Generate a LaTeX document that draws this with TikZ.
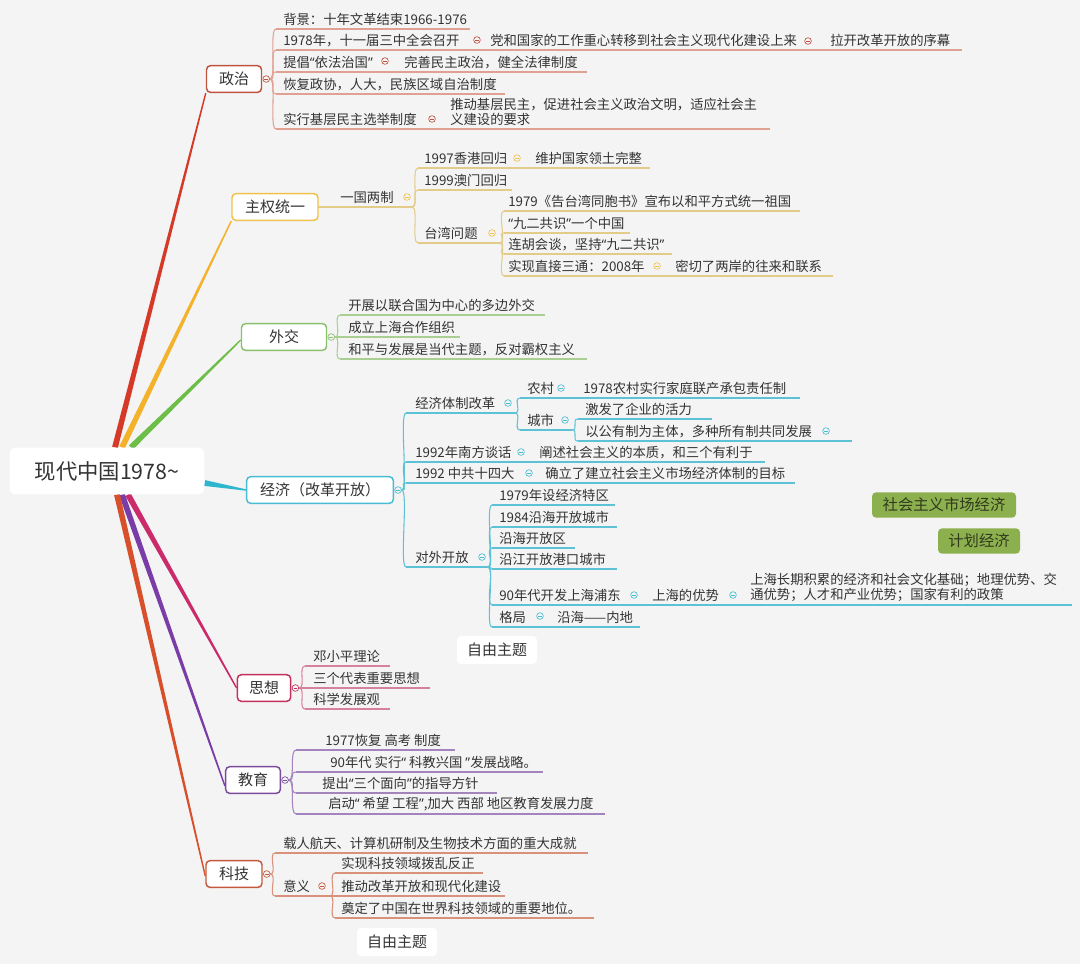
\documentclass[tikz,border=0pt]{standalone}
\usepackage{fontspec}
\newfontfamily\cjk{Noto Sans CJK SC}
\newfontfamily\mmlat{Noto Sans}
\newcommand\mmlq{{\mmlat “}}
\newcommand\mmrq{{\mmlat ”}}
\usetikzlibrary{calc}
\definecolor{bgc}{HTML}{F4F4F4}
\definecolor{txt}{HTML}{333333}
\definecolor{zc}{HTML}{C0533F}\definecolor{zl}{HTML}{E0A193}\definecolor{zr}{HTML}{D43A27}
\definecolor{yc}{HTML}{F0C14B}\definecolor{yl}{HTML}{E3CB8A}\definecolor{yr}{HTML}{F3B229}
\definecolor{gc}{HTML}{8BC06C}\definecolor{gl}{HTML}{A9CF92}\definecolor{gr}{HTML}{6CBE48}
\definecolor{cc}{HTML}{48BCD2}\definecolor{cl}{HTML}{5EC2D6}\definecolor{cr}{HTML}{2FB6CF}
\definecolor{sc}{HTML}{C2305C}\definecolor{sl}{HTML}{D8819C}\definecolor{sr}{HTML}{CB2B6A}
\definecolor{pc}{HTML}{7C4A9C}\definecolor{pl}{HTML}{A384BD}\definecolor{pr}{HTML}{7A3CA6}
\definecolor{kc}{HTML}{C4593D}\definecolor{kl}{HTML}{D99279}\definecolor{kr}{HTML}{D8502B}
\definecolor{gfill}{HTML}{8DB04F}\definecolor{gtxt}{HTML}{2F3A1C}
\pgfdeclarelayer{bg}
\pgfsetlayers{bg,main}
\tikzset{
 itemtext/.style={font=\cjk\fontsize{10}{11.5}\selectfont, text=txt, inner sep=0pt, anchor=south west, align=left},
 ul/.style={draw=#1, line width=0.8pt},
 topic/.style={draw=#1, fill=white, rounded corners=3pt, line width=1.1pt, font=\cjk\fontsize{11.25}{13}\selectfont, text=txt, inner sep=0pt, minimum height=20pt},
 tog/.style={circle, draw=#1, fill=bgc, inner sep=0pt, minimum size=5pt, line width=0.5pt,
   path picture={\draw[#1, line width=0.4pt] ([xshift=-1.4pt]path picture bounding box.center) -- ([xshift=1.4pt]path picture bounding box.center);}},
 freetopic/.style={fill=white, rounded corners=3pt, font=\cjk\fontsize{11.25}{13}\selectfont, text=txt, inner sep=0pt, minimum width=60pt, minimum height=21pt},
 gbox/.style={fill=gfill, rounded corners=3pt, font=\cjk\fontsize{11.5}{13}\selectfont, text=gtxt, inner sep=0pt, minimum height=19pt}
}
\newcommand\mmitem[7]{%
  \coordinate (#1-l) at (#3,#5);
  \coordinate (#1-r) at (#4,#5);
  \node[itemtext] (#1) at (#6,#5-3) {#7};
  \begin{pgfonlayer}{bg}\draw[ul=#2] (#1-l) -- (#1-r);\end{pgfonlayer}}
\newcommand\mmbrk[3]{\begin{pgfonlayer}{bg}\draw[ul=#1] (#2) .. controls +(7,0) and +(-7,0) .. (#3);\end{pgfonlayer}}
\newcommand\mmtaper[3]{\begin{pgfonlayer}{bg}\fill[#1] ($(#2)!2.2pt!90:(#3)$) -- ($(#3)!0.5pt!-90:(#2)$) -- ($(#3)!0.5pt!90:(#2)$) -- ($(#2)!2.2pt!-90:(#3)$) -- cycle;\end{pgfonlayer}}
\begin{document}
\begin{tikzpicture}[x=0.75pt,y=-0.75pt]
\begin{pgfonlayer}{bg}
\fill[bgc] (0,0) rectangle (1080,964);
\end{pgfonlayer}
\useasboundingbox (0,0) rectangle (1080,964);

% root and main topics
\node[fill=white, rounded corners=4pt, minimum width=146pt, minimum height=35pt, inner sep=0pt,
      font=\cjk\fontsize{16}{19}\selectfont, text=txt] (root) at (107,471) {现代中国1978\textasciitilde};
\node[topic=zc, minimum width=41.25pt] (zz) at (234,79) {政治};
\node[topic=yc, minimum width=64.5pt] (zq) at (275,207) {主权统一};
\node[topic=gc, minimum width=63.75pt] (wj) at (284,337) {外交};
\node[topic=cc, minimum width=110pt] (jj) at (320,490) {经济（改革开放）};
\node[topic=sc, minimum width=40pt] (sx) at (264,688) {思想};
\node[topic=pc, minimum width=41pt] (jy) at (253,780) {教育};
\node[topic=kc, minimum width=42pt] (kj) at (234,874) {科技};

% root connectors
\coordinate (r-zz) at ($(root.north)+(8,0)$);
\coordinate (r-zq) at ($(root.north)+(15,0)$);
\coordinate (r-wj) at ($(root.north)+(24,0)$);
\coordinate (r-jj) at ($(root.east)+(0,12)$);
\coordinate (r-sx) at ($(root.south)+(21,0)$);
\coordinate (r-jy) at ($(root.south)+(15,0)$);
\coordinate (r-kj) at ($(root.south)+(10,0)$);
\coordinate (e-wj) at ($(wj.west)+(0,3)$);
\coordinate (e-jy) at ($(jy.west)+(0,6)$);
\coordinate (e-kj) at ($(kj.west)+(0,2)$);
\mmtaper{zr}{r-zz}{zz.south west}
\mmtaper{yr}{r-zq}{zq.south west}
\mmtaper{gr}{r-wj}{e-wj}
\mmtaper{cr}{r-jj}{jj.west}
\mmtaper{sr}{r-sx}{sx.west}
\mmtaper{pr}{r-jy}{e-jy}
\mmtaper{kr}{r-kj}{e-kj}

% toggles on main topics
\node[tog=zc] (t-zz) at ($(zz.east)+(4,0)$) {};
\node[tog=gc] (t-wj) at ($(wj.east)+(4,0)$) {};
\node[tog=cc] (t-jj) at ($(jj.east)+(4,0)$) {};
\node[tog=sc] (t-sx) at ($(sx.east)+(4,0)$) {};
\node[tog=pc] (t-jy) at ($(jy.east)+(4,0)$) {};
\node[tog=kc] (t-kj) at ($(kj.east)+(4,0)$) {};

% ---- 政治
\mmitem{zz1}{zl}{276}{470}{29}{283}{背景：十年文革结束1966-1976}
\mmitem{zz2}{zl}{276}{486}{50}{283}{1978年，十一届三中全会召开}
\mmitem{zz2a}{zl}{486}{815}{50}{490}{党和国家的工作重心转移到社会主义现代化建设上来}
\mmitem{zz2b}{zl}{815}{962}{50}{830}{拉开改革开放的序幕}
\mmitem{zz3}{zl}{276}{393}{72}{283}{提倡\mmlq 依法治国\mmrq}
\mmitem{zz3a}{zl}{393}{587}{72}{404}{完善民主政治，健全法律制度}
\mmitem{zz4}{zl}{276}{505}{94}{283}{恢复政协，人大，民族区域自治制度}
\mmitem{zz5}{zl}{276}{440}{129}{283}{实行基层民主选举制度}
\mmitem{zz5a}{zl}{440}{770}{129}{450}{推动基层民主，促进社会主义政治文明，适应社会主\\义建设的要求}
\foreach \c in {zz1,zz2,zz3,zz4,zz5} {\mmbrk{zl}{t-zz.east}{\c-l}}
\node[tog=zc] (t-zz2) at (477,40) {};
\node[tog=zc] (t-zz2a) at (808,41) {};
\node[tog=zc] (t-zz3) at (385,61) {};
\node[tog=zc] (t-zz5) at (432,119) {};

% ---- 主权统一
\mmitem{y1}{yl}{318}{412}{207}{340}{一国两制}
\mmitem{y1a}{yl}{418}{525}{168}{424}{1997香港回归}
\mmitem{y1a1}{yl}{525}{650}{168}{535}{维护国家领土完整}
\mmitem{y1b}{yl}{418}{512}{190}{424}{1999澳门回归}
\mmitem{y1c}{yl}{418}{500}{243}{424}{台湾问题}
\mmitem{y1c1}{yl}{504}{800}{211}{508}{1979《告台湾同胞书》宣布以和平方式统一祖国}
\mmitem{y1c2}{yl}{504}{630}{233}{508}{\mmlq 九二共识\mmrq 一个中国}
\mmitem{y1c3}{yl}{504}{672}{254}{508}{连胡会谈，坚持\mmlq 九二共识\mmrq}
\mmitem{y1c4}{yl}{504}{665}{276}{508}{实现直接三通：2008年}
\mmitem{y1c4a}{yl}{665}{833}{276}{675}{密切了两岸的往来和联系}
\foreach \c in {y1a,y1b,y1c} {\mmbrk{yl}{y1-r}{\c-l}}
\foreach \c in {y1c1,y1c2,y1c3,y1c4} {\mmbrk{yl}{y1c-r}{\c-l}}
\node[tog=yc] (t-y1) at (407,197) {};
\node[tog=yc] (t-y1a) at (517,158) {};
\node[tog=yc] (t-y1c) at (492,233) {};
\node[tog=yc] (t-y1c4) at (657,266) {};

% ---- 外交
\mmitem{w1}{gl}{340}{545}{315}{348}{开展以联合国为中心的多边外交}
\mmitem{w2}{gl}{340}{460}{337}{348}{成立上海合作组织}
\mmitem{w3}{gl}{340}{587}{359}{348}{和平与发展是当代主题，反对霸权主义}
\foreach \c in {w1,w2,w3} {\mmbrk{gl}{t-wj.east}{\c-l}}

% ---- 经济
\mmitem{e1}{cl}{406}{515}{413}{415}{经济体制改革}
\mmitem{e1a}{cl}{520}{572}{398}{527}{农村}
\mmitem{e1a1}{cl}{572}{800}{398}{583}{1978农村实行家庭联产承包责任制}
\mmitem{e1b}{cl}{520}{572}{430}{527}{城市}
\mmitem{e1b1}{cl}{578}{712}{419}{585}{激发了企业的活力}
\mmitem{e1b2}{cl}{578}{852}{441}{585}{以公有制为主体，多种所有制共同发展}
\mmitem{e2}{cl}{406}{530}{462}{415}{1992年南方谈话}
\mmitem{e2a}{cl}{530}{765}{462}{539}{阐述社会主义的本质，和三个有利于}
\mmitem{e3}{cl}{406}{537}{483}{415}{1992 中共十四大}
\mmitem{e3a}{cl}{537}{795}{483}{545}{确立了建立社会主义市场经济体制的目标}
\mmitem{e4}{cl}{406}{488}{567}{415}{对外开放}
\mmitem{e4a}{cl}{492}{615}{505}{499}{1979年设经济特区}
\mmitem{e4b}{cl}{492}{617}{527}{499}{1984沿海开放城市}
\mmitem{e4c}{cl}{492}{575}{548}{499}{沿海开放区}
\mmitem{e4d}{cl}{492}{617}{569}{499}{沿江开放港口城市}
\mmitem{e4e}{cl}{492}{642}{605}{499}{90年代开发上海浦东}
\mmitem{e4e1}{cl}{642}{740}{605}{652}{上海的优势}
\mmitem{e4e2}{cl}{740}{1072}{605}{750}{上海长期积累的经济和社会文化基础；地理优势、交\\通优势；人才和产业优势；国家有利的政策}
\mmitem{e4f}{cl}{492}{548}{627}{499}{格局}
\mmitem{e4f1}{cl}{548}{640}{627}{557}{沿海——内地}
\foreach \c in {e1,e2,e3,e4} {\mmbrk{cl}{t-jj.east}{\c-l}}
\foreach \c in {e1a,e1b} {\mmbrk{cl}{e1-r}{\c-l}}
\foreach \c in {e1b1,e1b2} {\mmbrk{cl}{e1b-r}{\c-l}}
\foreach \c in {e4a,e4b,e4c,e4d,e4e,e4f} {\mmbrk{cl}{e4-r}{\c-l}}
\node[tog=cc] (t-e1) at (508,403) {};
\node[tog=cc] (t-e1a) at (561,388) {};
\node[tog=cc] (t-e1b) at (565,420) {};
\node[tog=cc] (t-e1b2) at (826,431) {};
\node[tog=cc] (t-e2) at (521,452) {};
\node[tog=cc] (t-e3) at (529,473) {};
\node[tog=cc] (t-e4) at (482,557) {};
\node[tog=cc] (t-e4e) at (634,595) {};
\node[tog=cc] (t-e4e1) at (733,595) {};
\node[tog=cc] (t-e4f) at (540,616) {};

% ---- 思想
\mmitem{s1}{sl}{305}{390}{666}{313}{邓小平理论}
\mmitem{s2}{sl}{305}{430}{688}{313}{三个代表重要思想}
\mmitem{s3}{sl}{305}{390}{709}{313}{科学发展观}
\foreach \c in {s1,s2,s3} {\mmbrk{sl}{t-sx.east}{\c-l}}

% ---- 教育
\mmitem{p1}{pl}{296}{455}{750}{325}{1977恢复 高考 制度}
\mmitem{p2}{pl}{296}{543}{772}{330}{90年代 实行\mmlq\ 科教兴国 \mmrq 发展战略。}
\mmitem{p3}{pl}{296}{497}{793}{322}{提出\mmlq 三个面向\mmrq 的指导方针}
\mmitem{p4}{pl}{296}{605}{814}{328}{启动\mmlq\ 希望 工程\mmrq ,加大 西部 地区教育发展力度}
\foreach \c in {p1,p2,p3,p4} {\mmbrk{pl}{t-jy.east}{\c-l}}

% ---- 科技
\mmitem{k1}{kl}{275}{588}{853}{283}{载人航天、计算机研制及生物技术方面的重大成就}
\mmitem{k2}{kl}{275}{330}{896}{283}{意义}
\mmitem{k2a}{kl}{335}{483}{873}{341}{实现科技领域拨乱反正}
\mmitem{k2b}{kl}{335}{505}{896}{341}{推动改革开放和现代化建设}
\mmitem{k2c}{kl}{335}{594}{918}{341}{奠定了中国在世界科技领域的重要地位。}
\foreach \c in {k1,k2} {\mmbrk{kl}{t-kj.east}{\c-l}}
\foreach \c in {k2a,k2b,k2c} {\mmbrk{kl}{k2-r}{\c-l}}
\node[tog=kc] (t-k2) at (322,886) {};

% ---- floating topics
\node[freetopic] (f1) at (497,650) {自由主题};
\node[freetopic] (f2) at (397,942) {自由主题};
\node[gbox, minimum width=108pt] (g1) at (944,505) {社会主义市场经济};
\node[gbox, minimum width=61.5pt] (g2) at (979,541) {计划经济};
\end{tikzpicture}
\end{document}
